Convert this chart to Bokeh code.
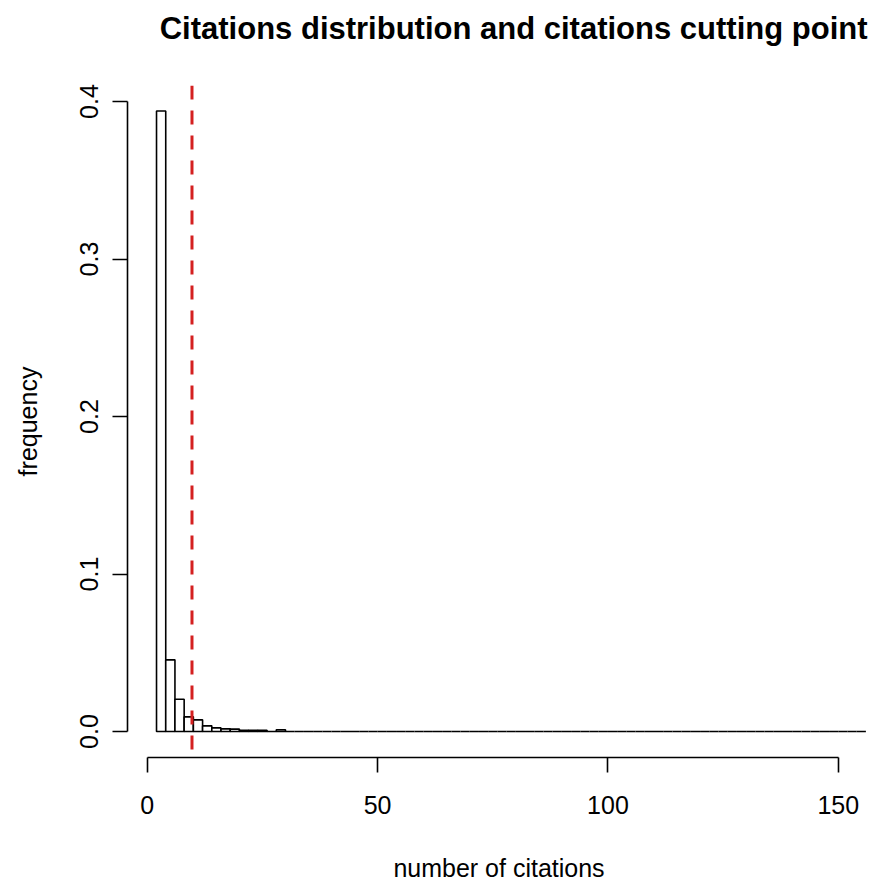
from bokeh.plotting import figure
from bokeh.models import Range1d, FixedTicker, PrintfTickFormatter, Span, LinearAxis, Title
from bokeh.embed import file_html
from bokeh.resources import INLINE

# ---- data (histogram of citations, density scale, bin width 2) ----
bin_edges = list(range(2, 158, 2))           # 2, 4, ..., 156
density_head = [0.394, 0.0455, 0.0205, 0.0093, 0.0074, 0.0036, 0.0023,
                0.0017, 0.0015, 0.0008, 0.0008, 0.0007, 0.0, 0.0011]
density = density_head + [0.0] * (len(bin_edges) - 1 - len(density_head))
cut_point = 9.7
x_ticks = [0, 50, 100, 150]
y_ticks = [0.0, 0.1, 0.2, 0.3, 0.4]
title_text = "Citations distribution and citations cutting point"
x_label = "number of citations"
y_label = "frequency"

FONT = "Liberation Sans"

p = figure(width=870, height=884, output_backend="svg", toolbar_location=None,
           x_range=Range1d(-4.3, 157.0), y_range=Range1d(-0.0165, 0.4102),
           x_axis_location=None, y_axis_location=None)
p.min_border_left = 127
p.min_border_right = 0
p.min_border_top = 85
p.min_border_bottom = 127
p.outline_line_color = None
p.grid.visible = False
p.background_fill_color = "white"
p.border_fill_color = "white"

p.title.text = title_text
p.title.align = "right"
p.title.offset = 3
p.title.text_font = FONT
p.title.text_font_size = "31px"
p.title.text_font_style = "bold"
p.title.text_color = "black"
p.title.vertical_align = "top"
p.title.standoff = 20

# spacer between frame and title (keeps the title near the top edge)
p.add_layout(Title(text=" ", text_font_size="1px", standoff=25), "above")

p.quad(left=bin_edges[:-1], right=bin_edges[1:], bottom=0, top=density,
       fill_color="white", line_color="black", line_width=1.6)

p.add_layout(Span(location=cut_point, dimension="height", line_color="#d42020",
                  line_width=3, line_dash="14 11"))

xaxis = LinearAxis(ticker=FixedTicker(ticks=x_ticks), bounds=(0, 150),
                   axis_label=x_label)
yaxis = LinearAxis(ticker=FixedTicker(ticks=y_ticks), bounds=(0, 0.4),
                   axis_label=y_label, formatter=PrintfTickFormatter(format="%.1f"))
for ax in (xaxis, yaxis):
    ax.axis_line_color = "black"
    ax.axis_line_width = 1.6
    ax.major_tick_line_color = "black"
    ax.major_tick_line_width = 1.6
    ax.major_tick_out = 15
    ax.major_tick_in = 0
    ax.minor_tick_line_color = None
    ax.major_label_text_font = FONT
    ax.major_label_text_font_size = "25px"
    ax.major_label_text_color = "black"
    ax.axis_label_text_font = FONT
    ax.axis_label_text_font_size = "25px"
    ax.axis_label_text_font_style = "normal"
    ax.axis_label_text_color = "black"
xaxis.major_label_standoff = 23
xaxis.axis_label_standoff = 37
yaxis.major_label_orientation = "vertical"
yaxis.major_label_standoff = 14
yaxis.axis_label_standoff = 36
p.add_layout(xaxis, "below")
p.add_layout(yaxis, "left")

open("out.html", "w").write(file_html(p, INLINE))
